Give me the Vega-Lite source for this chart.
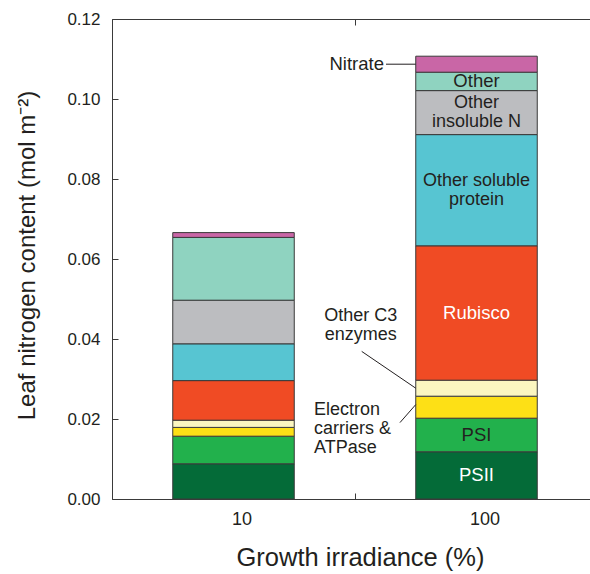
{
  "$schema": "https://vega.github.io/schema/vega-lite/v6.json",
  "width": 478,
  "height": 480,
  "autosize": {"type": "none"},
  "padding": {"left": 112, "top": 19, "right": 0, "bottom": 75},
  "background": "white",
  "config": {
    "view": {"stroke": null},
    "font": "Liberation Sans",
    "text": {"font": "Liberation Sans"},
    "axis": {"labelFont": "Liberation Sans", "titleFont": "Liberation Sans", "grid": false},
    "axisY": {
      "tickSize": -6, "labelPadding": 18, "labelFontSize": 17, "labelColor": "#231f20",
      "titleFontSize": 24, "titleFontWeight": "normal", "titleColor": "#231f20", "titlePadding": 27,
      "titleY": 236, "tickColor": "#3a3a3a", "domainColor": "#3a3a3a"
    }
  },
  "datasets": {
    "nitrogen": [
      {"irradiance": "10", "component": "PSII", "label": "PSII", "order": 1, "value": 0.0088},
      {"irradiance": "10", "component": "PSI", "label": "PSI", "order": 2, "value": 0.0069},
      {"irradiance": "10", "component": "Electron carriers & ATPase", "label": "", "order": 3, "value": 0.0022},
      {"irradiance": "10", "component": "Other C3 enzymes", "label": "", "order": 4, "value": 0.0018},
      {"irradiance": "10", "component": "Rubisco", "label": "Rubisco", "order": 5, "value": 0.0099},
      {"irradiance": "10", "component": "Other soluble protein", "label": "Other soluble\nprotein", "order": 6, "value": 0.0092},
      {"irradiance": "10", "component": "Other insoluble N", "label": "Other\ninsoluble N", "order": 7, "value": 0.0109},
      {"irradiance": "10", "component": "Other", "label": "Other", "order": 8, "value": 0.0157},
      {"irradiance": "10", "component": "Nitrate", "label": "", "order": 9, "value": 0.0012},
      {"irradiance": "100", "component": "PSII", "label": "PSII", "order": 1, "value": 0.0118},
      {"irradiance": "100", "component": "PSI", "label": "PSI", "order": 2, "value": 0.0084},
      {"irradiance": "100", "component": "Electron carriers & ATPase", "label": "", "order": 3, "value": 0.0055},
      {"irradiance": "100", "component": "Other C3 enzymes", "label": "", "order": 4, "value": 0.0040},
      {"irradiance": "100", "component": "Rubisco", "label": "Rubisco", "order": 5, "value": 0.0336},
      {"irradiance": "100", "component": "Other soluble protein", "label": "Other soluble\nprotein", "order": 6, "value": 0.0278},
      {"irradiance": "100", "component": "Other insoluble N", "label": "Other\ninsoluble N", "order": 7, "value": 0.0110},
      {"irradiance": "100", "component": "Other", "label": "Other", "order": 8, "value": 0.0046},
      {"irradiance": "100", "component": "Nitrate", "label": "", "order": 9, "value": 0.0040}
    ],
    "notes": [
      {"irradiance": "100", "note": "Nitrate", "text": "Nitrate", "textY": 0.1087, "lineY1": 0.1087, "lineY2": 0.1087},
      {"irradiance": "100", "note": "C3", "text": "Other C3\nenzymes", "textY": 0.0433, "lineY1": 0.0369, "lineY2": 0.0277},
      {"irradiance": "100", "note": "Electron", "text": "Electron\ncarriers &\nATPase", "textY": 0.0176, "lineY1": 0.0191, "lineY2": 0.0236}
    ]
  },
  "layer": [
    {
      "data": {"name": "nitrogen"},
      "mark": {"type": "bar", "width": {"band": 0.5}, "stroke": "#3a3a3a", "strokeWidth": 1},
      "encoding": {
        "x": {
          "field": "irradiance", "type": "nominal", "sort": ["10", "100"],
          "scale": {"range": [0, 486], "paddingInner": 0, "paddingOuter": 0},
          "axis": {
            "orient": "bottom", "title": "Growth irradiance (%)", "titleFontSize": 25.5, "titleFontWeight": "normal",
            "titleColor": "#231f20", "titlePadding": 17, "titleX": 248, "labelFontSize": 18, "labelColor": "#231f20",
            "labelAngle": 0, "labelOffset": 8, "labelPadding": 17, "tickBand": "extent", "tickSize": -6,
            "tickColor": "#3a3a3a", "domainColor": "#3a3a3a"
          }
        },
        "y": {
          "field": "value", "type": "quantitative", "stack": "zero",
          "title": "Leaf nitrogen content (mol m⁻²)",
          "scale": {"domain": [0, 0.12], "nice": false},
          "axis": {"values": [0, 0.02, 0.04, 0.06, 0.08, 0.1, 0.12], "format": ".2f"}
        },
        "color": {
          "field": "component", "type": "nominal", "legend": null,
          "scale": {
            "domain": ["PSII", "PSI", "Electron carriers & ATPase", "Other C3 enzymes", "Rubisco", "Other soluble protein", "Other insoluble N", "Other", "Nitrate"],
            "range": ["#046b38", "#22b14c", "#fde016", "#fbf6c0", "#f04b24", "#57c5d2", "#bcbdc0", "#8fd3c0", "#c966a6"]
          }
        },
        "order": {"field": "order", "type": "quantitative"}
      }
    },
    {
      "data": {"name": "nitrogen"},
      "transform": [
        {"stack": "value", "groupby": ["irradiance"], "sort": [{"field": "order", "order": "ascending"}], "as": ["lo", "hi"]},
        {"filter": {"field": "irradiance", "equal": "100"}},
        {"filter": {"field": "component", "oneOf": ["PSI", "Other"]}},
        {"fold": ["lo", "hi"], "as": ["edge", "pos"]}
      ],
      "mark": {"type": "text", "fontSize": 18.5, "color": "#231f20", "baseline": "middle", "align": "center"},
      "encoding": {
        "x": {"field": "irradiance", "type": "nominal", "axis": null},
        "y": {"aggregate": "mean", "field": "pos", "type": "quantitative", "title": "Leaf nitrogen content (mol m⁻²)"},
        "text": {"field": "label"}
      }
    },
    {
      "data": {"name": "nitrogen"},
      "transform": [
        {"stack": "value", "groupby": ["irradiance"], "sort": [{"field": "order", "order": "ascending"}], "as": ["lo", "hi"]},
        {"filter": {"field": "irradiance", "equal": "100"}},
        {"filter": {"field": "component", "oneOf": ["Other soluble protein", "Other insoluble N"]}},
        {"fold": ["lo", "hi"], "as": ["edge", "pos"]}
      ],
      "mark": {"type": "text", "fontSize": 18, "lineHeight": 19, "lineBreak": "\n", "color": "#231f20", "baseline": "middle", "align": "center", "dy": -9.5},
      "encoding": {
        "x": {"field": "irradiance", "type": "nominal", "axis": null},
        "y": {"aggregate": "mean", "field": "pos", "type": "quantitative", "title": "Leaf nitrogen content (mol m⁻²)"},
        "text": {"field": "label"}
      }
    },
    {
      "data": {"name": "nitrogen"},
      "transform": [
        {"stack": "value", "groupby": ["irradiance"], "sort": [{"field": "order", "order": "ascending"}], "as": ["lo", "hi"]},
        {"filter": {"field": "irradiance", "equal": "100"}},
        {"filter": {"field": "component", "oneOf": ["PSII", "Rubisco"]}},
        {"fold": ["lo", "hi"], "as": ["edge", "pos"]}
      ],
      "mark": {"type": "text", "fontSize": 18.5, "color": "white", "baseline": "middle", "align": "center"},
      "encoding": {
        "x": {"field": "irradiance", "type": "nominal", "axis": null},
        "y": {"aggregate": "mean", "field": "pos", "type": "quantitative", "title": "Leaf nitrogen content (mol m⁻²)"},
        "text": {"field": "label"}
      }
    },
    {
      "data": {"name": "notes"},
      "transform": [{"filter": {"field": "note", "equal": "Nitrate"}}],
      "mark": {"type": "text", "fontSize": 18.5, "color": "#231f20", "baseline": "middle", "align": "right", "dx": -2},
      "encoding": {
        "x": {
          "field": "irradiance", "type": "nominal", "bandPosition": 0.1276,
          "axis": {"orient": "top", "labels": false, "title": null, "tickBand": "extent", "tickSize": -6, "tickColor": "#3a3a3a", "domainColor": "#3a3a3a"}
        },
        "y": {"field": "textY", "type": "quantitative", "title": "Leaf nitrogen content (mol m⁻²)"},
        "text": {"field": "text"}
      }
    },
    {
      "data": {"name": "notes"},
      "transform": [{"filter": {"field": "note", "equal": "C3"}}],
      "mark": {"type": "text", "fontSize": 18, "lineHeight": 19, "lineBreak": "\n", "color": "#231f20", "baseline": "middle", "align": "center", "dy": -9.5},
      "encoding": {
        "x": {"field": "irradiance", "type": "nominal", "bandPosition": 0.0235, "axis": null},
        "y": {"field": "textY", "type": "quantitative", "title": "Leaf nitrogen content (mol m⁻²)"},
        "text": {"field": "text"}
      }
    },
    {
      "data": {"name": "notes"},
      "transform": [{"filter": {"field": "note", "equal": "Electron"}}],
      "mark": {"type": "text", "fontSize": 18, "lineHeight": 19, "lineBreak": "\n", "color": "#231f20", "baseline": "middle", "align": "left", "dx": -41, "dy": -19},
      "encoding": {
        "x": {"field": "irradiance", "type": "nominal", "bandPosition": 0, "axis": null},
        "y": {"field": "textY", "type": "quantitative", "title": "Leaf nitrogen content (mol m⁻²)"},
        "text": {"field": "text"}
      }
    },
    {
      "data": {"name": "notes"},
      "transform": [{"filter": {"field": "note", "equal": "Nitrate"}}],
      "mark": {"type": "rule", "color": "#231f20", "strokeWidth": 1},
      "encoding": {
        "x": {"field": "irradiance", "type": "nominal", "bandPosition": 0.1276, "axis": null},
        "x2": {"field": "irradiance", "bandPosition": 0.25},
        "y": {"field": "lineY1", "type": "quantitative", "title": "Leaf nitrogen content (mol m⁻²)"},
        "y2": {"field": "lineY2"}
      }
    },
    {
      "data": {"name": "notes"},
      "transform": [{"filter": {"field": "note", "equal": "C3"}}],
      "mark": {"type": "rule", "color": "#231f20", "strokeWidth": 1},
      "encoding": {
        "x": {"field": "irradiance", "type": "nominal", "bandPosition": 0.0276, "axis": null},
        "x2": {"field": "irradiance", "bandPosition": 0.25},
        "y": {"field": "lineY1", "type": "quantitative", "title": "Leaf nitrogen content (mol m⁻²)"},
        "y2": {"field": "lineY2"}
      }
    },
    {
      "data": {"name": "notes"},
      "transform": [{"filter": {"field": "note", "equal": "Electron"}}],
      "mark": {"type": "rule", "color": "#231f20", "strokeWidth": 1},
      "encoding": {
        "x": {"field": "irradiance", "type": "nominal", "bandPosition": 0.185, "axis": null},
        "x2": {"field": "irradiance", "bandPosition": 0.25},
        "y": {"field": "lineY1", "type": "quantitative", "title": "Leaf nitrogen content (mol m⁻²)"},
        "y2": {"field": "lineY2"}
      }
    }
  ],
  "resolve": {"axis": {"x": "independent"}}
}
